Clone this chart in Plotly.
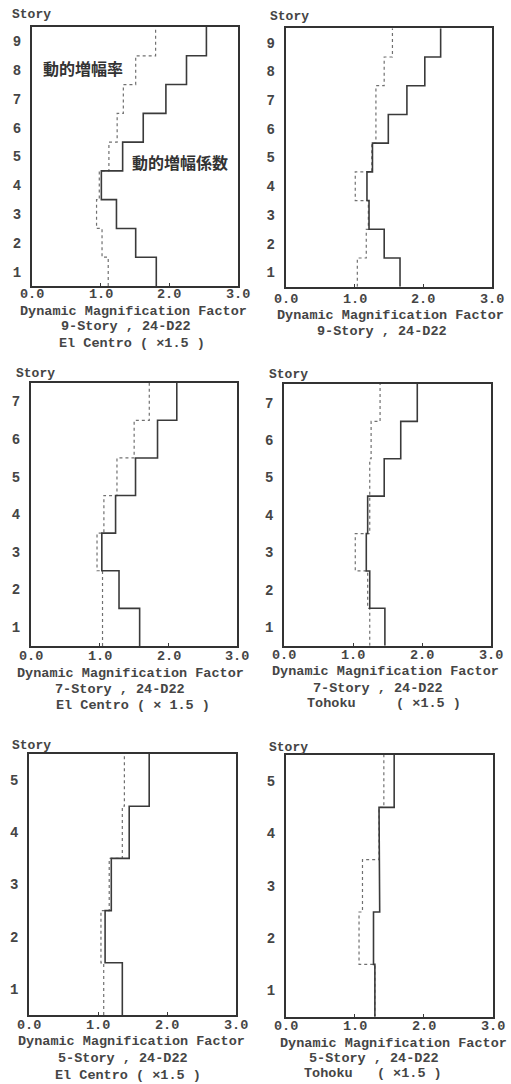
import plotly.graph_objects as go

W, H = 511, 1084

# ---------------- data (values for stories 1..N, bottom to top) ----------------
ec9_factor = [1.81, 1.51, 1.23, 1.01, 1.32, 1.62, 1.95, 2.25, 2.54]
ec9_rate = [1.11, 1.02, 0.94, 0.98, 1.12, 1.24, 1.33, 1.51, 1.80]

t9_factor = [1.66, 1.43, 1.21, 1.18, 1.26, 1.49, 1.76, 2.02, 2.25]
t9_rate = [1.04, 1.17, 1.20, 1.01, 1.25, 1.31, 1.31, 1.43, 1.55]

ec7_factor = [1.58, 1.28, 1.03, 1.23, 1.52, 1.84, 2.12]
ec7_rate = [1.04, 1.04, 0.96, 1.06, 1.25, 1.50, 1.72]

t7_factor = [1.46, 1.24, 1.19, 1.21, 1.45, 1.69, 1.93]
t7_rate = [1.24, 1.21, 1.03, 1.24, 1.24, 1.26, 1.39]

ec5_factor = [1.35, 1.10, 1.19, 1.45, 1.74]
ec5_rate = [1.08, 1.04, 1.16, 1.35, 1.38]

t5_factor = [1.29, 1.27, 1.36, 1.35, 1.57]
t5_rate = [1.29, 1.06, 1.11, 1.35, 1.42]

x_tick_vals = [0, 1, 2, 3]
x_tick_text = ["0.0", "1.0", "2.0", "3.0"]
x_title = "Dynamic Magnification Factor"

captions = [
    ["9-Story , 24-D22", "El Centro ( ×1.5 )"],
    ["9-Story , 24-D22"],
    ["7-Story , 24-D22", "El Centro ( × 1.5 )"],
    ["7-Story , 24-D22", "Tohoku\u00a0\u00a0\u00a0\u00a0\u00a0( ×1.5 )"],
    ["5-Story , 24-D22", "El Centro ( ×1.5 )"],
    ["5-Story , 24-D22", "Tohoku\u00a0\u00a0\u00a0( ×1.5 )"],
]
label_rate = "動的増幅率"
label_factor = "動的増幅係数"

series = [
    (ec9_factor, ec9_rate),
    (t9_factor, t9_rate),
    (ec7_factor, ec7_rate),
    (t7_factor, t7_rate),
    (ec5_factor, ec5_rate),
    (t5_factor, t5_rate),
]

# ---------------- layout (pixel boxes of each panel) ----------------
boxes = [  # x0, x1, y0(top), y1(bottom)
    (32, 238, 27, 286),
    (285.7, 492.3, 28.3, 286.7),
    (31, 237.3, 382.7, 646),
    (284.3, 491, 384, 645.7),
    (29.3, 236, 754, 1015),
    (286, 492.7, 755, 1016.7),
]
# tick label row y, caption line centres (x, y) in pixels
tick_row_y = [295, 299, 656.7, 655, 1025, 1026.7]
caption_pos = [
    [(133, 311.7), (126, 326.7), (132, 343.3)],
    [(390, 315), (381.7, 331.7)],
    [(130, 673.3), (120.3, 689.3), (132.5, 705)],
    [(385.7, 671.7), (377.5, 688.3), (384, 703.5)],
    [(131.7, 1041.7), (123.3, 1058.3), (127.5, 1075)],
    [(393.3, 1043.3), (374, 1058.3), (372.5, 1073.3)],
]
story_pos = [(10, 15), (268, 16.7), (14, 373.3), (267, 374), (10, 745), (267, 747.3)]

MONO = "Liberation Mono"
INK = "#3a3a3a"
TXT = "#454545"


def px(x):
    return x / W


def py(y):
    return 1 - y / H


def steps(values):
    xs, ys = [], []
    for i, v in enumerate(values, start=1):
        xs += [v, v]
        ys += [i - 0.5, i + 0.5]
    return xs, ys


fig = go.Figure()
annotations = []
layout_axes = {}

for k, ((fac, rate), (x0, x1, y0, y1)) in enumerate(zip(series, boxes)):
    n = len(fac)
    sfx = "" if k == 0 else str(k + 1)
    xa, ya = "x" + sfx, "y" + sfx

    xr, yr = steps(rate)
    fig.add_trace(go.Scatter(x=xr, y=yr, mode="lines", xaxis=xa, yaxis=ya,
                             line=dict(color="#707070", width=1.2, dash="dot"),
                             showlegend=False, hoverinfo="skip"))
    xf, yf = steps(fac)
    fig.add_trace(go.Scatter(x=xf, y=yf, mode="lines", xaxis=xa, yaxis=ya,
                             line=dict(color=INK, width=1.6),
                             showlegend=False, hoverinfo="skip"))

    layout_axes["xaxis" + sfx] = dict(
        domain=[px(x0), px(x1)], anchor=ya, range=[0, 3],
        tickvals=x_tick_vals, ticktext=[""] * len(x_tick_vals),
        ticks="inside", ticklen=3, tickcolor=INK, tickwidth=1,
        showline=True, linecolor="#333", linewidth=2, mirror=True,
        showgrid=False, zeroline=False,
        fixedrange=True,
    )
    layout_axes["yaxis" + sfx] = dict(
        domain=[py(y1), py(y0)], anchor=xa, range=[0.5, n + 0.5],
        tickvals=list(range(1, n + 1)), ticktext=[str(i) for i in range(1, n + 1)],
        ticks="", ticklabelstandoff=6,
        showline=True, linecolor="#333", linewidth=2, mirror=True,
        showgrid=False, zeroline=False,
        tickfont=dict(family=MONO, size=14, color=TXT, weight="bold"),
        fixedrange=True,
    )

    # x tick labels as annotations bound to the data axis
    for v, t in zip(x_tick_vals, x_tick_text):
        annotations.append(dict(
            text=t, x=v, xref=xa, y=py(tick_row_y[k]), yref="paper",
            xanchor="center", yanchor="middle", showarrow=False,
            font=dict(family=MONO, size=13.5, color=TXT, weight="bold")))

    lines = [x_title] + captions[k]
    for text, (cx, cy) in zip(lines, caption_pos[k]):
        annotations.append(dict(
            text=text, x=px(cx), y=py(cy), xref="paper", yref="paper",
            xanchor="center", yanchor="middle", showarrow=False,
            font=dict(family=MONO, size=13.5, color=TXT, weight="bold")))

    sx, sy = story_pos[k]
    annotations.append(dict(
        text="Story", x=px(sx), y=py(sy), xref="paper", yref="paper",
        xanchor="left", yanchor="middle", showarrow=False,
        font=dict(family=MONO, size=13, color=TXT, weight="bold")))

# Japanese labels in the first panel
annotations.append(dict(text=label_rate, x=px(82.5), y=py(68.3),
                        xref="paper", yref="paper", xanchor="center", yanchor="middle",
                        showarrow=False,
                        font=dict(family="Noto Sans CJK JP", size=16, color="#333",
                                  weight="bold")))
annotations.append(dict(text=label_factor, x=px(180), y=py(162.3),
                        xref="paper", yref="paper", xanchor="center", yanchor="middle",
                        showarrow=False,
                        font=dict(family="Noto Sans CJK JP", size=16, color="#333",
                                  weight="bold")))

fig.update_layout(
    width=W, height=H,
    margin=dict(l=0, r=0, t=0, b=0),
    paper_bgcolor="white", plot_bgcolor="white",
    annotations=annotations,
    **layout_axes,
)

fig.write_html("out.html", config={"displayModeBar": False})
